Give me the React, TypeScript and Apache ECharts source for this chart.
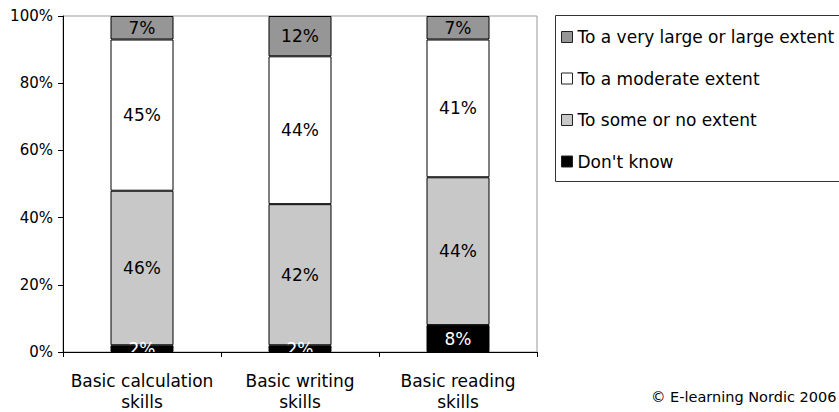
import React, { useEffect, useRef } from "react";
import * as echarts from "echarts";

const categories = ["Basic calculation\nskills", "Basic writing\nskills", "Basic reading\nskills"];
const dontKnow = [2, 2, 8];
const someOrNo = [46, 42, 44];
const moderate = [45, 44, 41];
const veryLarge = [7, 12, 7];
const yTicks = [0, 20, 40, 60, 80, 100];

const FONT = "DejaVu Sans";

export default function App() {
  const ref = useRef<HTMLDivElement>(null);

  useEffect(() => {
    if (!ref.current) return;
    const chart = echarts.init(ref.current, null, { renderer: "svg" });

    const seg = (name: string, data: number[], color: string, labelColor: string) => ({
      name,
      type: "bar",
      stack: "total",
      barWidth: 63,
      data,
      itemStyle: { color, borderColor: "#000", borderWidth: 1 },
      label: {
        show: true,
        position: "inside",
        formatter: "{c}%",
        color: labelColor,
        fontFamily: FONT,
        fontSize: 17,
      },
      emphasis: { disabled: true },
    });

    chart.setOption({
      animation: false,
      backgroundColor: "#fff",
      grid: {
        left: 63,
        right: 302,
        top: 16,
        bottom: 59,
        show: true,
        borderColor: "#999",
        borderWidth: 1,
        backgroundColor: "transparent",
      },
      xAxis: {
        type: "category",
        data: categories,
        z: 5,
        axisLine: { lineStyle: { color: "#000", width: 1 } },
        axisTick: { show: true, length: 5, lineStyle: { color: "#000" } },
        axisLabel: {
          color: "#000",
          fontFamily: FONT,
          fontSize: 17,
          lineHeight: 21,
          margin: 18,
          interval: 0,
        },
      },
      yAxis: {
        type: "value",
        min: yTicks[0],
        max: yTicks[yTicks.length - 1],
        interval: yTicks[1] - yTicks[0],
        z: 5,
        axisLine: { show: true, lineStyle: { color: "#000", width: 1 } },
        axisTick: { show: true, length: 5, lineStyle: { color: "#000" } },
        splitLine: { show: false },
        axisLabel: {
          formatter: "{value}%",
          color: "#000",
          fontFamily: FONT,
          fontSize: 15,
          margin: 10,
        },
      },
      legend: {
        orient: "vertical",
        left: 561,
        top: 27,
        padding: 0,
        itemWidth: 11,
        itemHeight: 11,
        itemGap: 21.5,
        icon: "rect",
        itemStyle: { borderColor: "#222", borderWidth: 1 },
        textStyle: { color: "#000", fontFamily: FONT, fontSize: 17, lineHeight: 20 },
        data: [
          "To a very large or large extent",
          "To a moderate extent",
          "To some or no extent",
          "Don't know",
        ],
        selectedMode: false,
      },
      graphic: [
        {
          type: "rect",
          shape: { x: 555.5, y: 15.5, width: 400, height: 166 },
          style: { fill: "none", stroke: "#333", lineWidth: 1 },
          silent: true,
        },
        {
          type: "text",
          x: 651,
          y: 397,
          style: {
            text: "© E-learning Nordic 2006",
            fill: "#000",
            font: `14.5px "${FONT}"`,
            verticalAlign: "middle",
          },
          silent: true,
        },
      ],
      series: [
        seg("Don't know", dontKnow, "#000", "#fff"),
        seg("To some or no extent", someOrNo, "#c8c8c8", "#000"),
        seg("To a moderate extent", moderate, "#fff", "#000"),
        seg("To a very large or large extent", veryLarge, "#969696", "#000"),
      ],
    });

    return () => chart.dispose();
  }, []);

  return (
    <div
      ref={ref}
      style={{ position: "fixed", left: 0, top: 0, width: 839, height: 412, background: "#fff" }}
    />
  );
}
